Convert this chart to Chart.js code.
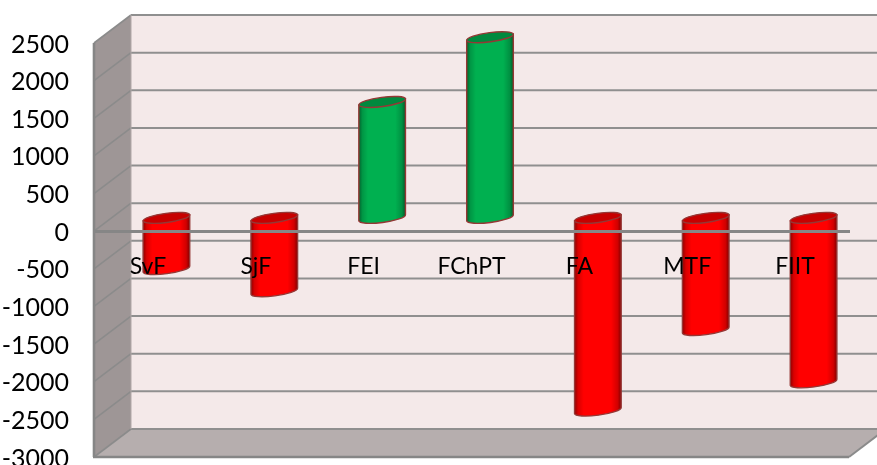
<!DOCTYPE html>
<html>
<head>
<meta charset="utf-8">
<style>html,body{margin:0;padding:0;background:#fff}#w{width:877px;height:465px;position:relative}</style>
<script src="https://cdn.jsdelivr.net/npm/chart.js@4/dist/chart.umd.js"></script>
</head>
<body>
<div id="w"><canvas id="c"></canvas></div>
<script>
const categories = ['SvF','SjF','FEI','FChPT','FA','MTF','FIIT'];
const values = [-680,-975,1540,2400,-2560,-1490,-2185];
const barColors = ['#ff0000','#ff0000','#00b050','#00b050','#ff0000','#ff0000','#ff0000'];
const axisMin = -3000, axisMax = 2500, axisStep = 500;

const DX = 37, DY = -28;
const FONT = 'Lato';

class CylinderElement extends Chart.BarElement {
  static id = 'cylinder';
  draw(ctx) {
    const {x, y, base, width} = this.getProps(['x','y','base','width']);
    const o = this.options;
    const cx = x + DX/2, rx = width/2, ry = 4.6, t = -7.5*Math.PI/180;
    const top = Math.min(y, base) + DY/2 + 0.7, bot = Math.max(y, base) + DY/2 + 0.7;
    const ox = rx*Math.cos(t), oy = rx*Math.sin(t);
    ctx.save();
    ctx.beginPath();
    ctx.moveTo(cx-ox, top-oy);
    ctx.lineTo(cx-ox, bot-oy);
    ctx.ellipse(cx, bot, rx, ry, t, Math.PI, 0, true);
    ctx.lineTo(cx+ox, top+oy);
    ctx.closePath();
    ctx.fillStyle = o.backgroundColor;
    ctx.fill();
    const g = ctx.createLinearGradient(cx-rx, 0, cx+rx, 0);
    g.addColorStop(0,'rgba(0,0,0,.45)');
    g.addColorStop(.08,'rgba(0,0,0,.15)');
    g.addColorStop(.2,'rgba(0,0,0,0)');
    g.addColorStop(.78,'rgba(0,0,0,0)');
    g.addColorStop(.92,'rgba(0,0,0,.18)');
    g.addColorStop(1,'rgba(0,0,0,.5)');
    ctx.fillStyle = g;
    ctx.fill();
    ctx.strokeStyle = o.borderColor;
    ctx.lineWidth = 1.4;
    ctx.stroke();
    ctx.beginPath();
    ctx.ellipse(cx, top, rx, ry, t, 0, Math.PI*2);
    ctx.fillStyle = o.backgroundColor;
    ctx.fill();
    ctx.fillStyle = 'rgba(0,0,0,.22)';
    ctx.fill();
    ctx.stroke();
    ctx.restore();
  }
}
class CylinderController extends Chart.BarController {
  static id = 'cylinderBar';
  static defaults = {...Chart.BarController.defaults, dataElementType: 'cylinder'};
  static overrides = Chart.BarController.overrides;
}
Chart.register(CylinderElement, CylinderController);

const box3d = {
  id: 'box3d',
  beforeDatasetsDraw(chart) {
    const {ctx, chartArea: a, scales: {y}} = chart;
    const L=a.left, R=a.right, T=a.top, B=a.bottom;
    const poly = (pts, fill) => {
      ctx.beginPath();
      pts.forEach((p,i)=> i?ctx.lineTo(p[0],p[1]):ctx.moveTo(p[0],p[1]));
      ctx.closePath();
      ctx.fillStyle = fill; ctx.fill();
    };
    const line = (x1,y1,x2,y2,c,w) => {
      ctx.beginPath(); ctx.moveTo(x1,y1); ctx.lineTo(x2,y2);
      ctx.strokeStyle=c; ctx.lineWidth=w; ctx.stroke();
    };
    ctx.save();
    poly([[L+DX,T+DY],[R+DX,T+DY],[R+DX,B+DY],[L+DX,B+DY]], '#f4e9e9');
    poly([[L,T],[L+DX,T+DY],[L+DX,B+DY],[L,B]], '#9e9696');
    poly([[L,B],[L+DX,B+DY],[R+DX,B+DY],[R,B]], '#b6aeae');
    y.ticks.forEach(t => {
      const p = y.getPixelForValue(t.value);
      line(L, p, L+DX, p+DY, '#8b8b8b', 1.6);
      line(L+DX, p+DY, R+DX, p+DY, '#8f8f8f', 2);
    });
    line(L+DX, T+DY, L+DX, B+DY, '#b0a8a8', 1);
    line(L, T, L, B, '#868686', 2.6);
    line(L-1, B, R, B, '#868686', 2.6);
    line(R, B, R+DX, B+DY, '#8b8b8b', 2);
    ctx.restore();
  }
};

new Chart(document.getElementById('c'), {
  type: 'cylinderBar',
  data: {
    labels: categories,
    datasets: [{
      data: values,
      backgroundColor: barColors,
      borderColor: '#953735',
      categoryPercentage: 1,
      barPercentage: 0.436,
      clip: false
    }]
  },
  plugins: [box3d],
  options: {
    responsive: true,
    maintainAspectRatio: false,
    animation: false,
    devicePixelRatio: 1,
    layout: {padding: {left: 0, top: 43, right: 28, bottom: 8}},
    plugins: {legend: {display: false}, tooltip: {enabled: false}},
    scales: {
      x: {
        position: {y: 0},
        afterFit(s) { s.height = 0; },
        grid: {display: false, drawTicks: false},
        border: {display: true, color: '#868686', width: 3, z: 2},
        ticks: {z: 2, autoSkip: false, maxRotation: 0, minRotation: 0, padding: 22, color: '#000',
                font: {family: FONT, size: 23}}
      },
      y: {
        min: axisMin, max: axisMax,
        afterFit(s) { s.width = 94; s.paddingTop = 0; s.paddingBottom = 0; },
        grid: {display: false, drawTicks: false},
        border: {display: false},
        ticks: {stepSize: axisStep, padding: 25, labelOffset: 1.5, color: '#000', font: {family: FONT, size: 25},
                callback: v => String(v)}
      }
    }
  }
});
</script>
</body>
</html>
